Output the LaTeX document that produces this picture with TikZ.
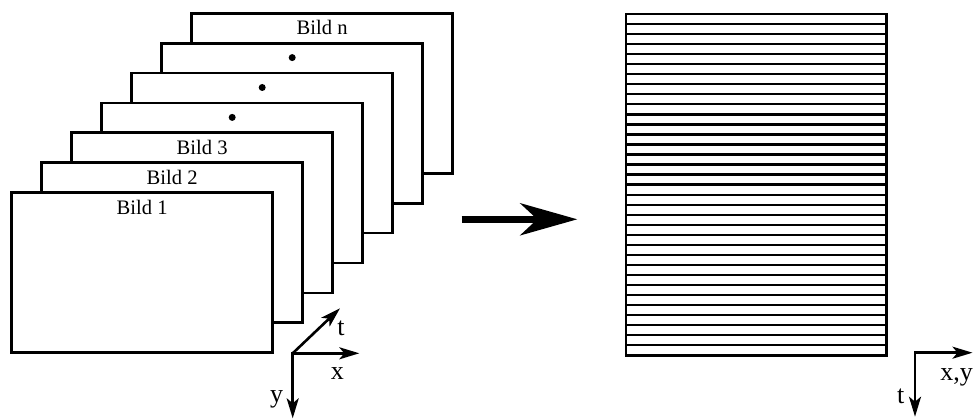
\documentclass[tikz,border=0pt]{standalone}
\usepackage{fontspec}
\setmainfont{Liberation Serif}
\usetikzlibrary{arrows.meta,calc}
\tikzset{axtip/.tip={Stealth[length=20pt,width=12pt,inset=5pt]}}
\begin{document}
\begin{tikzpicture}[x=1pt,y=-1pt,
  frame/.style={draw,fill=white,line width=2.8pt,minimum width=261pt,minimum height=160pt,anchor=north west,inner sep=0pt,outer sep=0pt},
  lbl/.style={anchor=base,inner sep=0pt,font=\fontsize{20.6}{24}\selectfont},
  axlbl/.style={anchor=base,inner sep=0pt,font=\fontsize{26}{30}\selectfont},
  axis/.style={line width=2.6pt},
  dotmark/.style={circle,fill=black,inner sep=0pt,minimum size=7pt}]
\useasboundingbox (0,0) rectangle (973,419);
% stacked frames
\foreach \i in {7,6,...,1} {
  \node[frame] (f\i) at ({11.7+30*(\i-1)},{192.7-29.9*(\i-1)}) {};
}
\node[lbl] (l1) at ($(f1.north)+(0,21.7)$) {Bild 1};
\node[lbl] (l2) at ($(f2.north)+(0,21.7)$) {Bild 2};
\node[lbl] (l3) at ($(f3.north)+(0,21.7)$) {Bild 3};
\node[dotmark] (d4) at ($(f4.north)+(0,14.4)$) {};
\node[dotmark] (d5) at ($(f5.north)+(0,14.4)$) {};
\node[dotmark] (d6) at ($(f6.north)+(0,14.4)$) {};
\node[lbl] (l7) at ($(f7.north)+(0,21.0)$) {Bild n};
% big arrow
\coordinate (as) at (461.7,219.3);
\coordinate (ae) at (577.3,219.3);
\draw[line width=6.7pt,-{Stealth[length=57pt,width=32pt,inset=17pt]}] (as) -- (ae);
% striped image
\node[draw,line width=2.8pt,minimum width=260.7pt,minimum height=341.3pt,anchor=north west,inner sep=0pt,outer sep=0pt] (r) at (626,14) {};
\foreach \k in {1,...,33} {
  \draw[line width=2.3pt] ($(r.north west)+(0,\k*10.038)$) -- ($(r.north east)+(0,\k*10.038)$);
}
% left axes
\coordinate (o1) at (292.7,353.3);
\coordinate (ox) at (359.3,353.3);
\coordinate (oy) at (292.7,418.3);
\coordinate (ot) at (340,308.3);
\draw[axis,axtip-axtip] (ox) -- (o1) -- (oy);
\draw[axis,-axtip] (o1) -- (ot);
\node[axlbl] (lt) at (341,335.7) {t};
\node[axlbl] (lx) at (337.3,379.3) {x};
\node[axlbl] (ly) at (276.7,402) {y};
% right axes
\coordinate (o2) at (915,352.7);
\coordinate (o2x) at (972.5,352.7);
\coordinate (o2t) at (915,416.7);
\draw[axis,axtip-axtip] (o2x) -- (o2) -- (o2t);
\node[axlbl] (lxy) at (956.7,380) {x,y};
\node[axlbl] (lt2) at (900.7,403.3) {t};
\end{tikzpicture}
\end{document}
